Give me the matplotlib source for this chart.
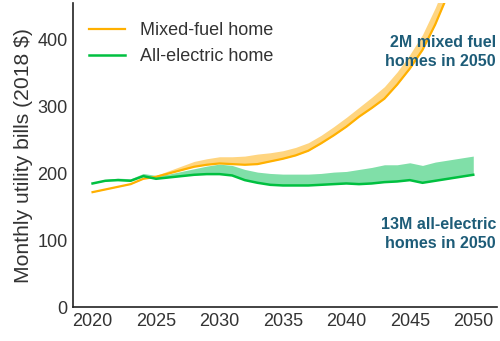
import matplotlib
matplotlib.use("Agg")
import matplotlib.pyplot as plt
import numpy as np

plt.rcParams['font.family'] = ['Liberation Sans', 'DejaVu Sans']

years = list(range(2020, 2051))
# mixed-fuel home: lower edge (drawn line) and upper edge of band
mixed_lo = [172, 176, 180, 184, 192, 195, 200, 205, 210, 213, 215, 214, 213, 214, 218,
            222, 227, 234, 245, 257, 270, 285, 298, 312, 333, 357, 385, 423, 468, 520, 580]
mixed_hi = [173, 177, 181, 185, 193, 197, 204, 211, 218, 222, 225, 225, 226, 229, 231,
            234, 239, 246, 257, 270, 284, 299, 314, 330, 352, 378, 408, 448, 494, 548, 610]
# all-electric home
elec_lo = [185, 189, 190, 189, 196, 192, 194, 196, 198, 199, 199, 197, 190, 186, 183,
           182, 182, 182, 183, 184, 185, 184, 185, 187, 188, 190, 186, 189, 192, 195, 198]
elec_hi = [186, 191, 193, 192, 200, 197, 199, 203, 207, 211, 214, 212, 206, 202, 200,
           199, 199, 199, 200, 202, 203, 206, 209, 213, 213, 216, 212, 217, 220, 223, 226]

ORANGE, ORANGE_BAND = "#FFB000", "#FFD580"
GREEN, GREEN_BAND = "#00C040", "#80DFA8"
TEXT = "#1D5C78"

fig = plt.figure(figsize=(5.0, 3.41), dpi=100)
ax = fig.add_axes([0.146, 0.0997, 0.848, 0.891])

ax.fill_between(years, mixed_lo, mixed_hi, color=ORANGE_BAND, lw=0)
ax.fill_between(years, elec_lo, elec_hi, color=GREEN_BAND, lw=0)
ax.plot(years, mixed_lo, color=ORANGE, lw=1.6, label="Mixed-fuel home")
ax.plot(years, elec_lo, color=GREEN, lw=1.8, label="All-electric home")

ax.set_xlim(2018.46, 2051.87)
ax.set_ylim(0, 455)
ax.set_xticks(range(2020, 2051, 5))
ax.set_yticks([0, 100, 200, 300, 400])
for s in ("top", "right"):
    ax.spines[s].set_visible(False)
for s in ("left", "bottom"):
    ax.spines[s].set_color("#222222")
    ax.spines[s].set_linewidth(1.2)
ax.tick_params(length=0, pad=4, labelsize=13, colors="#333333")
ax.set_ylabel("Monthly utility bills (2018 $)", fontsize=15.2, color="#333333", labelpad=3)

leg = ax.legend(loc="upper left", frameon=False, fontsize=13, handlelength=2.0,
                handletextpad=0.8, labelspacing=0.5, bbox_to_anchor=(0.0, 0.99))
for t in leg.get_texts():
    t.set_color("#333333")

ax.text(2051.8, 408, "2M mixed fuel\nhomes in 2050", ha="right", va="top", fontsize=11.5,
        fontweight="bold", color=TEXT, linespacing=1.35)
ax.text(2051.8, 135, "13M all-electric\nhomes in 2050", ha="right", va="top", fontsize=11.5,
        fontweight="bold", color=TEXT, linespacing=1.35)

fig.savefig("out.png", dpi=100)
